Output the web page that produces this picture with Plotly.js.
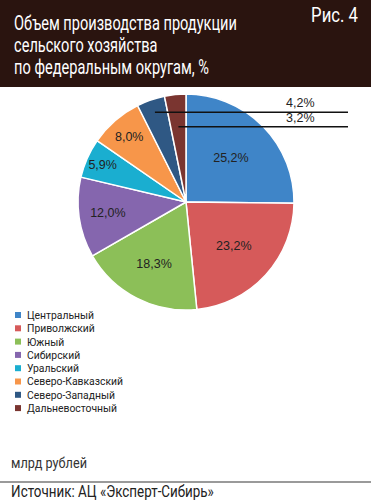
<!DOCTYPE html>
<html>
<head>
<meta charset="utf-8">
<script src="https://cdn.plot.ly/plotly-3.0.1.min.js"></script>
<style>
html,body{margin:0;padding:0;background:#fff;}
#chart{width:371px;height:500px;}
</style>
</head>
<body>
<div id="chart"></div>
<script>
// ---- data ----
var districts = ["Центральный","Приволжский","Южный","Сибирский","Уральский","Северо-Кавказский","Северо-Западный","Дальневосточный"];
var shares = [25.2, 23.2, 18.3, 12.0, 5.9, 8.0, 4.2, 3.2];
var colors = ["#3f85c8","#d65a5a","#8cbf58","#8566ae","#1aaed0","#f7964a","#2f5884","#7a3530"];
var outsideIdx = [6, 7];           // slices labelled outside with leader lines
var titleLines = ["Объем производства продукции","сельского хозяйства","по федеральным округам, %"];
var figLabel = "Рис. 4";
var unitNote = "млрд рублей";
var sourceNote = "Источник: АЦ «Эксперт-Сибирь»";

var W = 371, H = 500;
var cond = 'Roboto,"Liberation Sans",sans-serif';
var plain = 'Arial,"Liberation Sans",sans-serif';

function fmt(v){ return v.toFixed(1).replace('.', ',') + '%'; }
function px(x){ return x / W; }
function py(y){ return 1 - y / H; }

// pie geometry (pixels)
var cx = 186, cy = 202, R = 108;

var textpos = shares.map(function(v,i){ return outsideIdx.indexOf(i) >= 0 ? 'none' : 'inside'; });

var trace = {
  type: 'pie',
  labels: districts,
  values: shares,
  text: shares.map(fmt),
  textinfo: 'text',
  textposition: textpos,
  insidetextorientation: 'horizontal',
  sort: false,
  direction: 'clockwise',
  rotation: 0,
  hole: 0,
  marker: {colors: colors, line: {color: '#ffffff', width: 1.5}},
  textfont: {family: plain, size: 12.5, color: '#222222'},
  domain: {x: [px(cx - R), px(cx + R)], y: [py(cy + R), py(cy - R)]},
  showlegend: false,
  hoverinfo: 'label+text'
};

var shapes = [], annotations = [];
var condense = [];   // {idx, group, anchor}
var groupTarget = {};  // group -> {idx, width}

function addCond(ann, group, anchor){
  annotations.push(ann);
  condense.push({idx: annotations.length - 1, group: group, anchor: anchor});
  return annotations.length - 1;
}

// header band
shapes.push({type:'rect', xref:'paper', yref:'paper', x0:0, x1:1, y0:py(87), y1:1,
  fillcolor:'#2a140f', line:{width:0}, layer:'below'});

titleLines.forEach(function(t, i){
  var k = addCond({xref:'paper', yref:'paper', x:px(12), y:py(23 + i*22), xanchor:'left', yanchor:'middle',
    text:t, showarrow:false, font:{family:cond, size:21, color:'#ffffff'}}, 'title', 'left');
  if (i === 0) groupTarget.title = {idx:k, width:223};
});
var kf = addCond({xref:'paper', yref:'paper', x:px(360), y:py(15), xanchor:'right', yanchor:'middle',
  text:figLabel, showarrow:false, font:{family:cond, size:21, color:'#ffffff'}}, 'fig', 'right');
groupTarget.fig = {idx:kf, width:47};

// leader lines for small slices
var cum = 0, mids = [];
shares.forEach(function(v){ mids.push(cum + v/2); cum += v; });
var total = cum;
var radFrac = {6: 0.88, 7: 0.70};
var endX = 348, labelX = 300;
outsideIdx.forEach(function(i){
  var ang = mids[i] / total * 2 * Math.PI;
  var r = R * radFrac[i];
  var x0 = cx + r * Math.sin(ang), y0 = cy - r * Math.cos(ang);
  shapes.push({type:'line', xref:'paper', yref:'paper', x0:px(x0), x1:px(endX), y0:py(y0), y1:py(y0),
    line:{color:'#111111', width:1.5}});
  annotations.push({xref:'paper', yref:'paper', x:px(labelX), y:py(y0), xanchor:'center', yanchor:'bottom',
    text:fmt(shares[i]), showarrow:false, font:{family:plain, size:12.5, color:'#222222'}});
});

// manual legend: coloured squares + one multi-line text block
var legTop = 315, legStep = 13.3;
districts.forEach(function(d, i){
  var yc = legTop + i * legStep;
  shapes.push({type:'rect', xref:'paper', yref:'paper', x0:px(15), x1:px(21), y0:py(yc + 3), y1:py(yc - 3),
    fillcolor:colors[i], line:{width:0}});
});
var kl = addCond({xref:'paper', yref:'paper', x:px(25), y:py(legTop - 7), xanchor:'left', yanchor:'top',
  text:districts.join('<br>'), align:'left', showarrow:false,
  font:{family:cond, size:11.2, color:'#222222'}}, 'legend', 'left');
groupTarget.legend = {idx:kl, width:96};

// footer
var ku = addCond({xref:'paper', yref:'paper', x:px(9), y:py(463), xanchor:'left', yanchor:'middle',
  text:unitNote, showarrow:false, font:{family:cond, size:14, color:'#333333'}}, 'unit', 'left');
groupTarget.unit = {idx:ku, width:76};
shapes.push({type:'line', xref:'paper', yref:'paper', x0:0, x1:1, y0:py(482), y1:py(482),
  line:{color:'#9a9a9a', width:2}});
var ks = addCond({xref:'paper', yref:'paper', x:px(9), y:py(491), xanchor:'left', yanchor:'middle',
  text:sourceNote, showarrow:false, font:{family:cond, size:16, color:'#222222'}}, 'source', 'left');
groupTarget.source = {idx:ks, width:203};

var layout = {
  width: W, height: H,
  margin: {l:0, r:0, t:0, b:0},
  paper_bgcolor: '#ffffff',
  showlegend: false,
  shapes: shapes,
  annotations: annotations
};

function textEl(idx){
  return document.querySelector('#chart g.annotation[data-index="' + idx + '"] text.annotation-text');
}

Plotly.newPlot('chart', [trace], layout, {displayModeBar:false, staticPlot:true}).then(function(){
  // tighten legend line spacing (each line tspan has its own y, dy is offset from it)
  var leg = textEl(kl);
  if (leg) {
    var lines = leg.querySelectorAll('tspan.line');
    for (var j = 0; j < lines.length; j++) lines[j].setAttribute('dy', (j * legStep) + 'px');
  }
  // horizontally condense texts to imitate the narrow typeface of the original
  var scales = {};
  Object.keys(groupTarget).forEach(function(g){
    var el = textEl(groupTarget[g].idx);
    if (!el) return;
    var w;
    if (g === 'legend') {
      var ls = el.querySelectorAll('tspan.line');
      w = ls.length > 5 ? ls[5].getComputedTextLength() : el.getBBox().width;
    } else {
      w = el.getBBox().width;
    }
    scales[g] = w > 0 ? Math.min(1, groupTarget[g].width / w) : 1;
  });
  condense.forEach(function(c){
    var el = textEl(c.idx);
    if (!el) return;
    var s = scales[c.group] || 1;
    var b = el.getBBox();
    var ox = c.anchor === 'right' ? b.x + b.width : b.x;
    var dy = 0;
    if (c.idx === kl) {
      // place the first line's vertical centre on the first legend square
      var ctm = el.getCTM();
      var ls2 = el.querySelectorAll('tspan.line');
      var fb = (ls2.length ? ls2[0] : el).getBBox();
      var firstCentre = (fb.y + fb.height / 2) + (ctm ? ctm.f : 0);
      dy = legTop - firstCentre + 0.5;
    }
    el.setAttribute('transform', 'translate(0,' + dy + ') translate(' + ox + ',0) scale(' + s + ',1) translate(' + (-ox) + ',0)');
  });
});
</script>
</body>
</html>
